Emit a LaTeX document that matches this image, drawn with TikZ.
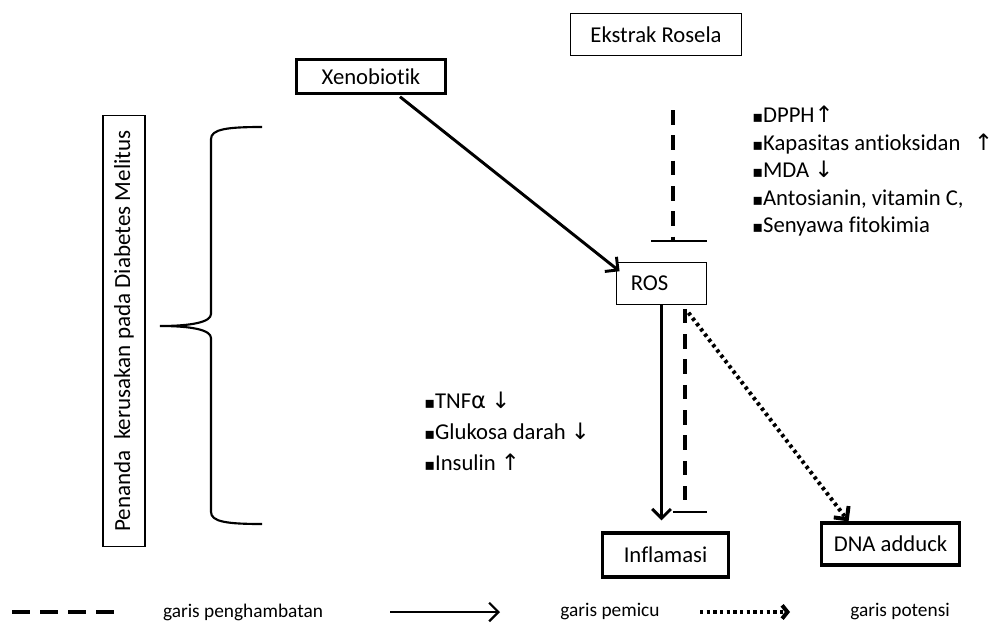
\documentclass[tikz,border=0pt]{standalone}
\usepackage{fontspec}
\setmainfont{Carlito}[Ligatures=NoCommon]
\newfontfamily\symfont{DejaVu Sans}
\usetikzlibrary{positioning,arrows.meta,calc}
\newcommand{\sq}{{\symfont\fontsize{12}{12}\selectfont ▪}}
\newcommand{\up}{{\symfont ↑}}
\newcommand{\down}{{\symfont ↓}}

\begin{document}
\begin{tikzpicture}[x=0.75pt,y=-0.75pt,>={Straight Barb[length=7pt,width=14pt]},every node/.style={font=\fontsize{17}{20}\selectfont},box/.style={draw,line width=2.4pt,align=center},thinbox/.style={draw,line width=0.9pt,align=center},list/.style={align=left,inner sep=0pt,anchor=north west},push/.style={line width=2.2pt},inhibit/.style={line width=2.4pt,dash pattern=on 11pt off 8pt},potent/.style={line width=3pt,dash pattern=on 2.4pt off 2.6pt}]
\useasboundingbox (0,0) rectangle (999,635);
% boxes
\node[thinbox,minimum width=128pt,minimum height=31pt] (rosela) at (656,34.5) {Ekstrak Rosela};
\node[box,minimum width=112pt,minimum height=25pt] (xeno) at (371,76.5) {Xenobiotik};
\node[thinbox,minimum width=68pt,minimum height=31pt,text width=46pt,inner xsep=11pt,align=left] (ros) at (661.5,283.5) {ROS};
\node[box,minimum width=94pt,minimum height=33pt] (infl) at (665.5,555) {Inflamasi};
\node[box,minimum width=104pt,minimum height=31.5pt] (dna) at (890.5,544) {DNA adduck};
\node[thinbox,rotate=90,minimum width=323pt,minimum height=31.5pt,font=\fontsize{17.3}{20}\selectfont] (penanda) at (124,331) {Penanda\ \ kerusakan pada Diabetes Melitus};
% lists
\node[list,font=\fontsize{17}{20.6}\selectfont] (effects) at (752,106) {\sq DPPH\up\\ \sq Kapasitas antioksidan\hspace{0.6em}\up\\ \sq MDA \down\\ \sq Antosianin, vitamin C,\\ \sq Senyawa fitokimia};
\node[list,font=\fontsize{17}{23.2}\selectfont] (markers) at (424,392) {\sq TNF{\symfont α} \down\\ \sq Glukosa darah \down\\ \sq Insulin \up};
% brace
\draw[line width=1.6pt] (262,127) .. controls (228,127) and (211,129) .. (211,139) -- (211,314) .. controls (211,322) and (192,326) .. (160,326) .. controls (192,326) and (211,330) .. (211,338) -- (211,512) .. controls (211,522) and (228,524) .. (262,524);
% connectors
\coordinate (inhtop) at (673,110);
\coordinate (inhtopbar) at (673,241);
\draw[inhibit] (inhtop) -- (inhtopbar);
\draw[line width=2pt] ($(inhtopbar)+(-22,0)$) -- ($(inhtopbar)+(34,0)$);
\draw[push,->] ($(xeno.south)+(29,2)$) -- ($(ros.north west)+(4,9)$);
\draw[push,->] (ros.south) -- ($(ros.south |- infl.north)+(0,-11)$);
\coordinate (inhlow) at (685,512);
\draw[inhibit] (ros.south -| inhlow) ++(0,4) -- ($(inhlow)+(0,-12)$);
\draw[line width=1pt] ($(inhlow)+(-12,0)$) -- ($(inhlow)+(22,0)$);
\draw[potent,->] ($(ros.south)+(27,8)$) -- ($(dna.north west)+(29,0)$);
% legend
\coordinate (lgdash1) at (12,612);
\coordinate (lgdash2) at (115,612);
\coordinate (lgpush1) at (390,612);
\coordinate (lgpush2) at (500,612);
\coordinate (lgpot1) at (700,612);
\coordinate (lgpot2) at (790,612);
\draw[line width=3pt,dash pattern=on 13.5pt off 7.5pt] (lgdash1) -- (lgdash2);
\node[font=\fontsize{14.5}{17}\selectfont] (lgtext1) at (243,612) {garis penghambatan};
\draw[line width=1.6pt,->] (lgpush1) -- (lgpush2);
\node[font=\fontsize{14.5}{17}\selectfont] (lgtext2) at (610,612) {garis pemicu};
\draw[potent,line width=2.4pt,-{Straight Barb[length=4pt,width=10pt,line width=3pt]}] (lgpot1) -- (lgpot2);
\node[font=\fontsize{14.5}{17}\selectfont] (lgtext3) at (900,612) {garis potensi};
\end{tikzpicture}
\end{document}
